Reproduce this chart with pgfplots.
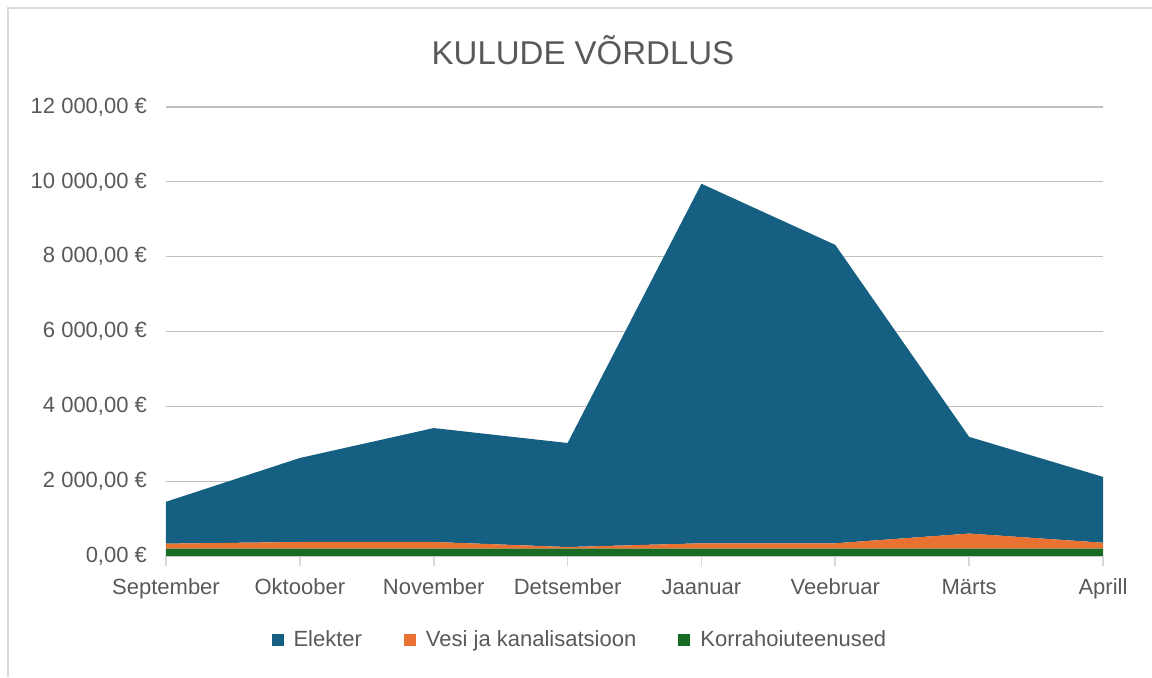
\documentclass[border=0pt]{standalone}
\usepackage{fontspec}
\setmainfont{Liberation Sans}
\usepackage{pgfplots}
\pgfplotsset{compat=1.18}
\definecolor{elek}{HTML}{156082}
\definecolor{vesi}{HTML}{E97132}
\definecolor{korra}{HTML}{196B24}
\definecolor{txt}{HTML}{595959}
\definecolor{grid}{HTML}{D9D9D9}
\begin{document}
\begin{tikzpicture}
\path[use as bounding box] (0,0) rectangle (576pt,-338.5pt);
\draw[grid, line width=0.6pt] (4pt,-338.5pt) -- (4pt,-4pt) -- (576pt,-4pt);
\node[text=txt, font=\fontsize{16.5}{19}\selectfont] at (291.5pt,-25pt) {KULUDE VÕRDLUS};
\begin{axis}[
  at={(83pt,-278pt)}, anchor=south west,
  width=468.5pt, height=224.5pt, scale only axis,
  xmin=0, xmax=7, ymin=0, ymax=12000,
  scaled y ticks=false,
  stack plots=y,
  xtick={0,...,7},
  xticklabels={September,Oktoober,November,Detsember,Jaanuar,Veebruar,Märts,Aprill},
  ytick={0,2000,4000,6000,8000,10000,12000},
  yticklabels={{0,00 €},{2 000,00 €},{4 000,00 €},{6 000,00 €},{8 000,00 €},{10 000,00 €},{12 000,00 €}},
  ymajorgrids, xmajorgrids=false, grid style={grid, line width=0.6pt},
  axis x line*=bottom, axis y line*=left,
  x axis line style={draw=grid, line width=0.8pt, -},
  y axis line style={draw=none},
  xtick style={draw=grid, line width=0.8pt},
  xtick align=outside, major tick length=5pt,
  ytick style={draw=none},
  tick label style={text=txt, font=\fontsize{11}{13}\selectfont},
  xticklabel style={anchor=base, yshift=-14pt},
  yticklabel style={xshift=-6pt},
  legend columns=3,
  reverse legend,
  legend style={at={(0.446,-0.187)}, anchor=center, draw=none, fill=none,
    font=\fontsize{11}{13}\selectfont, text=txt,
    /tikz/every even column/.append style={column sep=16pt},
    nodes={inner xsep=5pt}},
  legend image code/.code={\fill[#1] (0pt,-3pt) rectangle (6pt,3pt);},
]
\addplot[draw=none, fill=korra] coordinates {(0,200)(1,200)(2,200)(3,200)(4,200)(5,200)(6,200)(7,200)} \closedcycle;
\addlegendentry{Korrahoiuteenused}
\addplot[draw=none, fill=vesi] coordinates {(0,130)(1,175)(2,175)(3,40)(4,140)(5,140)(6,400)(7,155)} \closedcycle;
\addlegendentry{Vesi ja kanalisatsioon}
\addplot[draw=none, fill=elek] coordinates {(0,1120)(1,2245)(2,3045)(3,2780)(4,9610)(5,7975)(6,2585)(7,1760)} \closedcycle;
\addlegendentry{Elekter}
\end{axis}
\end{tikzpicture}
\end{document}
